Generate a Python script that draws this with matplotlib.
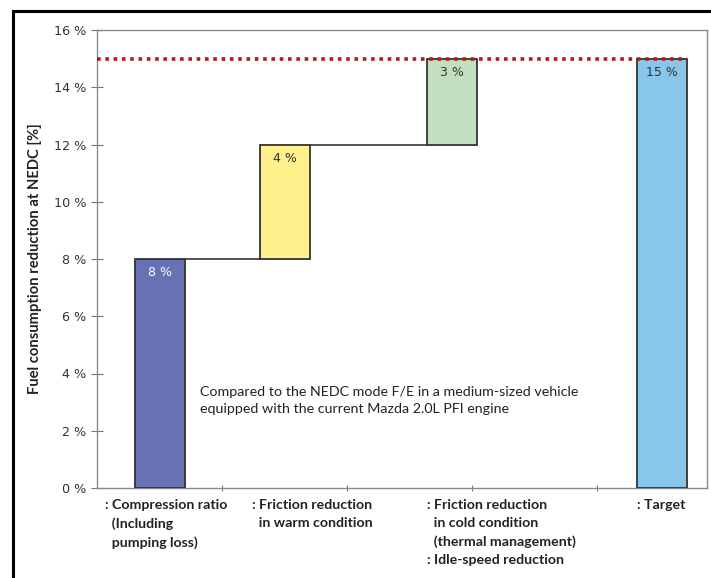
import numpy as np
import matplotlib.pyplot as plt
from matplotlib.patches import Rectangle

# waterfall steps of fuel consumption reduction (NEDC)
steps = [8, 4, 3]
target = 15
value_labels = ["8 %", "4 %", "3 %", "15 %"]
bar_pos = [0.5, 1.5, 2.84, 4.52]
colors = ["#6771b4", "#fff08c", "#c3dfc1", "#88c6ea"]
label_colors = ["white", "#333333", "#333333", "#333333"]
categories = [
    ": Compression ratio\n  (Including\n  pumping loss)",
    ": Friction reduction\n  in warm condition",
    ": Friction reduction\n  in cold condition\n  (thermal management)\n: Idle-speed reduction",
    ": Target",
]
label_x = [0.065, 1.24, 2.64, 4.32]
yticks = np.arange(0, 17, 2)

fig = plt.figure(figsize=(7.11, 5.78), dpi=100)
ax = fig.add_axes([97 / 711, 90 / 578, 610 / 711, 458 / 578])

bottoms = np.concatenate([[0], np.cumsum(steps)[:-1]])
heights = steps + [target]
bottoms = list(bottoms) + [0]
width = 0.4

ax.bar(bar_pos, heights, width=width, bottom=bottoms, color=colors,
       edgecolor="#333333", linewidth=1.3, zorder=3)

# connectors between step tops
tops = np.cumsum(steps)
for i in range(len(steps) - 1):
    ax.plot([bar_pos[i] + width / 2, bar_pos[i + 1] - width / 2],
            [tops[i], tops[i]], color="#333333", lw=1.2, zorder=2)

# target level
ax.plot([0, bar_pos[-1] + width / 2], [target, target], color="#b01c14",
        lw=2.6, ls=(0, (1, 1.3)), zorder=4)

for x, b, h, t, c in zip(bar_pos, bottoms, heights, value_labels, label_colors):
    ax.text(x, b + h - 0.25, t, ha="center", va="top", color=c,
            fontsize=9, zorder=5)

label_font = ["Lato", "DejaVu Sans"]

ax.text(0.824, 3.05,
        "Compared to the NEDC mode F/E in a medium-sized vehicle\n"
        "equipped with the current Mazda 2.0L PFI engine",
        ha="left", va="center", fontsize=10.3, color="#222222",
        family=label_font, linespacing=1.5)

ax.set_xlim(0, 4.88)
ax.set_ylim(0, 16)
ax.set_yticks(yticks)
ax.set_yticklabels([f"{v} %" for v in yticks], color="#333333", fontsize=9.2)
ax.set_xticks([1, 2, 3, 4])
ax.set_xticklabels([])
ax.tick_params(axis="y", direction="inout", length=8, width=0.8, color="#777777")
ax.tick_params(axis="x", direction="inout", length=4, width=0.8, color="#777777")
for s in ax.spines.values():
    s.set_color("#8a8a8a")
    s.set_linewidth(1.0)

for x, lab in zip(label_x, categories):
    ax.text(x, -0.38, lab, ha="left", va="top", fontsize=10.2, fontweight="bold",
            color="#222222", family=label_font,
            linespacing=1.62, clip_on=False)

ax.set_ylabel("Fuel consumption reduction at NEDC [%]", fontsize=10.6,
              fontweight="bold", color="#222222", labelpad=9,
              family=label_font)

# outer frame
fig.patches.append(Rectangle((13 / 711, -0.05), 0.99, 0.05 + 1 - 11 / 578,
                             transform=fig.transFigure, fill=False,
                             edgecolor="black", lw=2.2))

fig.savefig("out.png", dpi=100)
